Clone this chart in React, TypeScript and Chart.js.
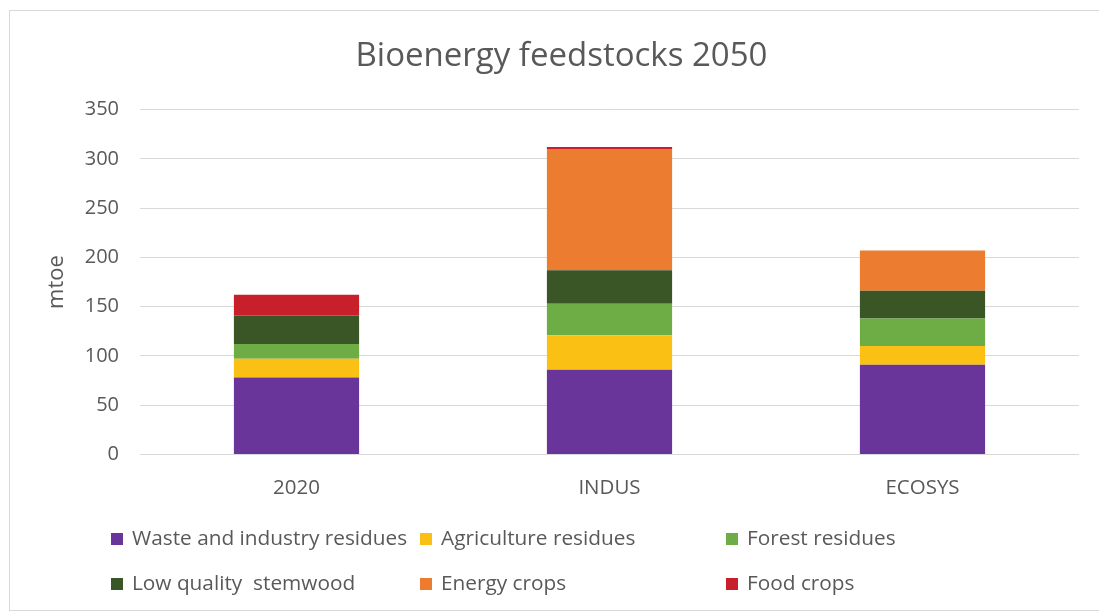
import React, { useEffect, useRef } from "react";
import { Chart, registerables } from "chart.js";

Chart.register(...registerables);

const categories = ["2020", "INDUS", "ECOSYS"];
const seriesNames = [
  "Waste and industry residues",
  "Agriculture residues",
  "Forest residues",
  "Low quality  stemwood",
  "Energy crops",
  "Food crops",
];
const wasteIndustry = [78, 86, 91];
const agriculture = [19, 35, 19];
const forest = [15, 32, 28];
const stemwood = [29, 34, 28];
const energyCrops = [0, 123, 41];
const foodCrops = [21, 2, 0];
const seriesColors = ["#6A359A", "#FBC014", "#6EAD45", "#3A5526", "#EB7C30", "#C8202A"];
const yTicks = [0, 50, 100, 150, 200, 250, 300, 350];

const FONT = "'Open Sans', sans-serif";
const TEXT = "#595959";

const legendPlugin = {
  id: "gridLegend",
  afterDraw(chart: any) {
    const ctx = chart.ctx;
    const cols = [111, 420, 726];
    const rows = [539, 584];
    ctx.save();
    ctx.font = `20.8px ${FONT}`;
    ctx.textBaseline = "middle";
    ctx.textAlign = "left";
    chart.data.datasets.forEach((ds: any, i: number) => {
      const x = cols[i % 3];
      const y = rows[Math.floor(i / 3)];
      ctx.fillStyle = ds.backgroundColor;
      ctx.fillRect(x, y - 6, 12, 12);
      ctx.fillStyle = TEXT;
      ctx.fillText(ds.label, x + 21, y);
    });
    ctx.restore();
  },
};

export default function App() {
  const ref = useRef<HTMLCanvasElement | null>(null);
  useEffect(() => {
    if (!ref.current) return;
    const data = [wasteIndustry, agriculture, forest, stemwood, energyCrops, foodCrops];
    const chart = new Chart(ref.current, {
      type: "bar",
      data: {
        labels: categories,
        datasets: seriesNames.map((name, i) => ({
          label: name,
          data: data[i],
          backgroundColor: seriesColors[i],
          borderWidth: 0,
          categoryPercentage: 1,
          barPercentage: 0.4,
        })),
      },
      options: {
        animation: false,
        responsive: false,
        maintainAspectRatio: false,
        layout: { padding: { left: 44, right: 20, top: 0, bottom: 93 } },
        plugins: {
          legend: { display: false },
          tooltip: { enabled: false },
          title: {
            display: true,
            text: "Bioenergy feedstocks 2050",
            color: TEXT,
            font: { family: FONT, size: 33, weight: "normal" },
            padding: { top: 37, bottom: 33 },
          },
        },
        scales: {
          x: {
            stacked: true,
            grid: { display: false, drawTicks: false },
            border: { display: false },
            ticks: { color: TEXT, font: { family: FONT, size: 20.5 }, padding: 21 },
          },
          y: {
            stacked: true,
            min: 0,
            max: 350,
            afterBuildTicks: (scale: any) => {
              scale.ticks = yTicks.map((v) => ({ value: v }));
            },
            afterFit: (scale: any) => {
              scale.width = 96;
            },
            grid: { color: "#D9D9D9", lineWidth: 1, drawTicks: false },
            border: { display: false },
            ticks: { color: TEXT, font: { family: FONT, size: 20 }, padding: 21 },
            title: {
              display: true,
              text: "mtoe",
              color: TEXT,
              font: { family: FONT, size: 22 },
              padding: 0,
            },
          },
        },
      },
      plugins: [legendPlugin],
    });
    return () => chart.destroy();
  }, []);

  return (
    <div style={{ position: "fixed", left: 0, top: 0, width: 1099, height: 614, background: "#fff" }}>
      <div
        style={{
          position: "absolute",
          left: 9,
          top: 10,
          width: 1100,
          height: 601,
          border: "1px solid #D9D9D9",
          boxSizing: "border-box",
        }}
      />
      <canvas ref={ref} width={1099} height={614} style={{ position: "absolute", left: 0, top: 0 }} />
    </div>
  );
}
